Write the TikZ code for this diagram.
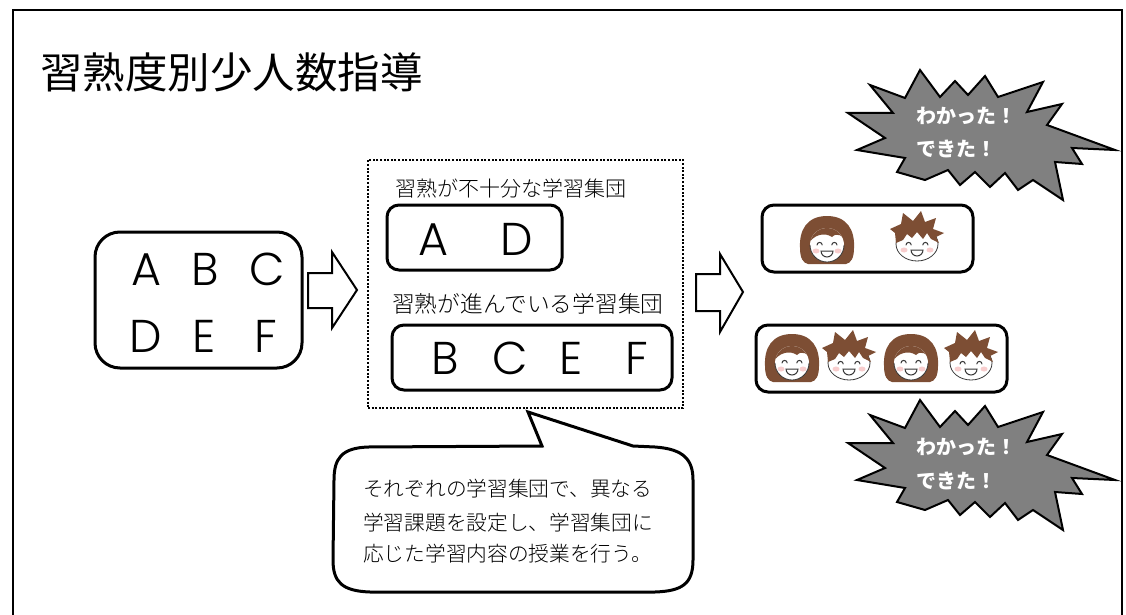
\documentclass[tikz,border=0pt]{standalone}
\usepackage{fontspec}
\setmainfont{Noto Sans CJK JP}
\newfontfamily\latinthin{Poppins}[UprightFont={* Light}]
\newfontfamily\jplight{Noto Sans CJK JP}[UprightFont={* Light}]
\definecolor{hair}{RGB}{125,78,52}
\definecolor{cheek}{RGB}{248,205,205}
\definecolor{faceline}{RGB}{55,55,55}
\definecolor{burstgray}{RGB}{128,128,128}
\tikzset{
  % girl with a brown bob, laughing
  girl/.pic={
    \fill[hair] (0,-24) .. controls (20,-24) and (28,-10) .. (27,8)
      .. controls (27,18) and (24,23) .. (19,24) -- (-19,24)
      .. controls (-24,23) and (-27,18) .. (-27,8)
      .. controls (-28,-10) and (-20,-24) .. (0,-24) -- cycle;
    \fill[white] (0,5) ellipse [x radius=17, y radius=17];
    \begin{scope}
      \clip (0,5) ellipse [x radius=17, y radius=17];
      \fill[hair] (-20,-20) -- (-20,6) .. controls (-14,-6) and (-2,-8) .. (5,-3)
        .. controls (10,-8) and (16,-5) .. (20,4) -- (20,-20) -- cycle;
    \end{scope}
    \draw[faceline, line width=0.8] (17,5) arc[start angle=0, end angle=180, x radius=17, y radius=17];
    \fill[cheek] (-11,11) ellipse [x radius=3.5, y radius=2.5];
    \fill[cheek] (11,11) ellipse [x radius=3.5, y radius=2.5];
    \draw[faceline, line width=1, line cap=round] (-10,5) arc[start angle=180, end angle=360, radius=2.6];
    \draw[faceline, line width=1, line cap=round] (4.8,5) arc[start angle=180, end angle=360, radius=2.6];
    \filldraw[fill=white, draw=faceline, line width=1] (-6,11) -- (6,11)
      arc[start angle=0, end angle=180, radius=6] -- cycle;
  },
  % boy with spiky brown hair, laughing
  boy/.pic={
    \fill[white] (0,7) ellipse [x radius=21, y radius=17];
    \draw[faceline, line width=0.8] (0,7) ellipse [x radius=21, y radius=17];
    \fill[hair] (-21,6) -- (-22,-4) -- (-27,-8) -- (-16,-13) -- (-14,-24) -- (-4,-16)
      -- (4,-26) -- (8,-15) -- (19,-19) -- (16,-8) -- (27,-4) -- (19,0) -- (22,6)
      -- (14,2) -- (10,-4) -- (6,2) -- (0,-5) -- (-5,1) -- (-10,-3) -- (-14,3) -- cycle;
    \fill[cheek] (-13,13) ellipse [x radius=3.5, y radius=2.5];
    \fill[cheek] (13,13) ellipse [x radius=3.5, y radius=2.5];
    \draw[faceline, line width=1, line cap=round] (-11,8) arc[start angle=180, end angle=360, radius=2.6];
    \draw[faceline, line width=1, line cap=round] (5.8,8) arc[start angle=180, end angle=360, radius=2.6];
    \filldraw[fill=white, draw=faceline, line width=1] (-6,13) -- (6,13)
      arc[start angle=0, end angle=180, radius=6] -- cycle;
  },
  % grey exclamation burst, drawn about its centre
  burst/.pic={
    \filldraw[fill=burstgray, draw=black, line width=2, line join=miter, miter limit=20]
      (-60,-63) -- (-40,-36) -- (-25,-52) -- (-12,-38) -- (5,-57) -- (18,-36)
      -- (63,-51) -- (47,-21) -- (82,-29) -- (67,-8) -- (135,17) -- (92,15)
      -- (102,31) -- (75,29) -- (83,67) -- (53,47) -- (38,57) -- (25,40)
      -- (10,54) -- (-5,39) -- (-20,52) -- (-32,37) -- (-55,47) -- (-83,39)
      -- (-75,25) -- (-123,17) -- (-95,5) -- (-132,-20) -- (-87,-20)
      -- (-110,-48) -- (-75,-35) -- cycle;
  }
}
\begin{document}
\begin{tikzpicture}[x=1pt, y=-1pt,
  box/.style={draw, line width=3, rounded corners=12, inner sep=0},
  lettertext/.style={font=\latinthin\fontsize{46}{46}\selectfont, inner sep=0, anchor=base},
  grouplabel/.style={inner sep=0, anchor=base west},
  blockarrow/.style={draw, line width=2, fill=white, line join=miter},
  cheer/.style={font=\fontsize{20}{20}\selectfont\bfseries, text=white, inner sep=0, anchor=base west},
  notetext/.style={font=\jplight\fontsize{20.7}{20.7}\selectfont, inner sep=0, anchor=base west}]
\useasboundingbox (0,0) rectangle (1126,615);

% open frame
\draw[line width=2.5] (13,616) -- (13,10) -- (1122,10) -- (1122,616);

% title
\node[grouplabel, font=\fontsize{42.5}{42.5}\selectfont] (title) at (40,89) {習熟度別少人数指導};

% whole class
\node[box, rounded corners=25, minimum width=207, minimum height=136] (all) at (198.5,300) {};
\node[lettertext] (a1) at (146,285) {A};
\node[lettertext] (b1) at (205,285) {B};
\node[lettertext] (c1) at (267,285) {C};
\node[lettertext] (d1) at (146,352) {D};
\node[lettertext] (e1) at (204,352) {E};
\node[lettertext] (f1) at (266,352) {F};

% first block arrow
\draw[blockarrow] (308,273) -- (332,273) -- (332,252) -- (357,290) -- (332,328) -- (332,308) -- (308,308) -- cycle;

% the two groups
\node[draw, line width=2, dash pattern=on 2pt off 1.6pt, minimum width=315, minimum height=248, inner sep=0] (groups) at (525.5,284) {};
\node[grouplabel, font=\jplight\fontsize{21}{21}\selectfont] (lab1) at (395,196) {習熟が不十分な学習集団};
\node[box, minimum width=175, minimum height=65] (grpA) at (474.5,237.5) {};
\node[lettertext] (a2) at (433,255) {A};
\node[lettertext] (d2) at (517,255) {D};
\node[grouplabel, font=\jplight\fontsize{22.7}{22.7}\selectfont] (lab2) at (392,312.5) {習熟が進んでいる学習集団};
\node[box, minimum width=280, minimum height=65] (grpB) at (532,357.5) {};
\node[lettertext] (b2) at (445,374) {B};
\node[lettertext] (c2) at (510,374) {C};
\node[lettertext] (e2) at (571,374) {E};
\node[lettertext] (f2) at (637,374) {F};

% second block arrow
\draw[blockarrow] (696,274) -- (720,274) -- (720,254) -- (743,292) -- (720,332) -- (720,311) -- (696,311) -- cycle;

% results
\node[box, minimum width=211, minimum height=67] (res1) at (867.5,238.5) {};
\pic at (827,240) {girl};
\pic at (917,237) {boy};
\node[box, minimum width=251, minimum height=67] (res2) at (881.5,358.5) {};
\pic at (792,358) {girl};
\pic at (849,356) {boy};
\pic at (911,358) {girl};
\pic at (971,356) {boy};

% bursts
\pic at (980,133) {burst};
\node[cheer] (ok1) at (916,124) {わかった！};
\node[cheer] (ok2) at (916,156) {できた！};
\pic at (980,463) {burst};
\node[cheer] (ok3) at (916,454) {わかった！};
\node[cheer] (ok4) at (916,488) {できた！};

% speech bubble
\draw[line width=3, fill=white, line join=miter]
  (368,447) -- (542,446) -- (528,412) -- (633,446) -- (655,447)
  .. controls (684,449) and (693,460) .. (693,480) -- (693,560)
  .. controls (693,584) and (682,591) .. (655,592) -- (370,592)
  .. controls (342,591) and (333,582) .. (333,560) -- (334,480)
  .. controls (334,458) and (342,448) .. (368,447) -- cycle;
\node[notetext] (n1) at (363,496) {それぞれの学習集団で、異なる};
\node[notetext] (n2) at (363,530) {学習課題を設定し、学習集団に};
\node[notetext] (n3) at (363,561) {応じた学習内容の授業を行う。};
\end{tikzpicture}
\end{document}
